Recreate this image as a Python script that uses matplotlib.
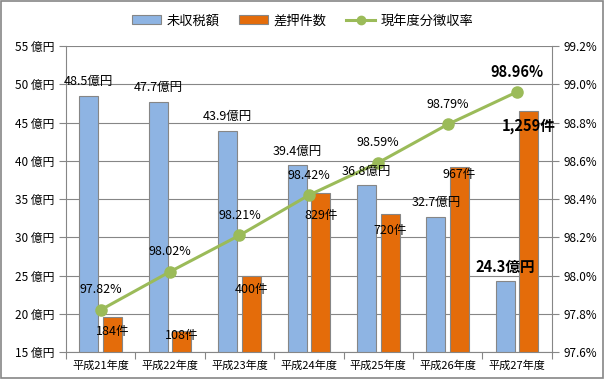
import matplotlib
matplotlib.use("Agg")
import matplotlib.pyplot as plt
from matplotlib.patches import Rectangle, Patch
from matplotlib.lines import Line2D
import numpy as np

plt.rcParams['font.family'] = ['Noto Sans CJK JP', 'DejaVu Sans']

# data
years = ["平成21年度", "平成22年度", "平成23年度", "平成24年度",
         "平成25年度", "平成26年度", "平成27年度"]
unpaid = [48.5, 47.7, 43.9, 39.4, 36.8, 32.7, 24.3]          # 億円
seizures = [184, 108, 400, 829, 720, 967, 1259]              # 件
rate = [97.82, 98.02, 98.21, 98.42, 98.59, 98.79, 98.96]     # %

blue = "#8EB4E3"
orange = "#E46C0A"
green = "#9BBB59"
grey = "#868686"

fig = plt.figure(figsize=(6.05, 3.79), dpi=100)
ax = fig.add_axes([0.109, 0.0712, 0.803, 0.8074])
ax_cnt = ax.twinx()
ax_pct = ax.twinx()

x = np.arange(len(years))
w = 0.275
off = 0.17

# blue bars (left axis)
ax.bar(x - off, unpaid, w, color=blue, edgecolor=grey, linewidth=0.8, zorder=2)
ax.set_ylim(15, 55)
ax.set_yticks(range(15, 56, 5))
ax.set_yticklabels(["%d 億円" % v for v in range(15, 56, 5)], fontsize=8.5)
ax.yaxis.grid(True, color=grey, linewidth=0.8)
ax.set_axisbelow(True)

# orange bars (hidden count axis)
ax_cnt.bar(x + off, seizures, w, color=orange, edgecolor=grey, linewidth=0.8)
ax_cnt.set_ylim(0, 1600)
ax_cnt.axis("off")

# rate line (right axis)
ax_pct.plot(x, rate, color=green, linewidth=2.2, marker="o", markersize=8)
ax_pct.set_ylim(97.6, 99.2)
pct_ticks = np.round(np.arange(97.6, 99.21, 0.2), 1)
ax_pct.set_yticks(pct_ticks)
ax_pct.set_yticklabels(["%.1f%%" % v for v in pct_ticks], fontsize=8.5)

ax.set_xlim(-0.5, len(years) - 0.5)
ax.set_xticks(np.arange(-0.5, len(years), 1.0))
ax.set_xticklabels([])
ax.set_xticks(x, minor=True)
ax.set_xticklabels(years, minor=True, fontsize=8)
ax.tick_params(axis="x", which="minor", length=0, pad=6)
ax.tick_params(axis="x", which="major", length=5, color=grey)
ax.tick_params(axis="y", length=5, color=grey)
ax_pct.tick_params(axis="y", length=5, color=grey)

for a in (ax, ax_pct):
    a.spines["top"].set_visible(False)
    for s in ("left", "right", "bottom"):
        a.spines[s].set_color(grey)
ax_pct.spines["left"].set_visible(False)
ax_pct.spines["bottom"].set_visible(False)
ax.spines["right"].set_visible(False)

# data labels, all drawn on the top axes so nothing hides them
last = len(years) - 1


def label(text, xy, trans, dy, bold):
    ax_pct.annotate(text, xy, xycoords=trans, xytext=(0, dy), textcoords="offset pixels",
                    ha="center", va="center", fontsize=10.5 if bold else 9,
                    fontweight="bold" if bold else "normal", zorder=6)


for i, v in enumerate(unpaid):
    label("%.1f億円" % v, (x[i] - off, v), ax.transData, 14, i == last)

cnt_off = [-15, -4, -14, -22, -16, -7, -15]
for i, v in enumerate(seizures):
    label("{:,}件".format(v), (x[i] + off, v), ax_cnt.transData, cnt_off[i], i == last)

for i, v in enumerate(rate):
    label("%.2f%%" % v, (x[i], v), ax_pct.transData, 20, i == last)

# legend
handles = [Patch(facecolor=blue, edgecolor=grey, linewidth=0.8),
           Patch(facecolor=orange, edgecolor=grey, linewidth=0.8),
           Line2D([0], [0], color=green, linewidth=2.2, marker="o", markersize=6)]
fig.legend(handles, ["未収税額", "差押件数", "現年度分徴収率"], loc="center",
           bbox_to_anchor=(0.5, 0.945), ncol=3, frameon=False, fontsize=9.5,
           handlelength=2.2, columnspacing=1.5, handletextpad=0.4)

fig.patches.append(Rectangle((0.001, 0.002), 0.996, 0.996, transform=fig.transFigure,
                             fill=False, edgecolor=grey, linewidth=1.2))

fig.savefig("out.png", dpi=100)
